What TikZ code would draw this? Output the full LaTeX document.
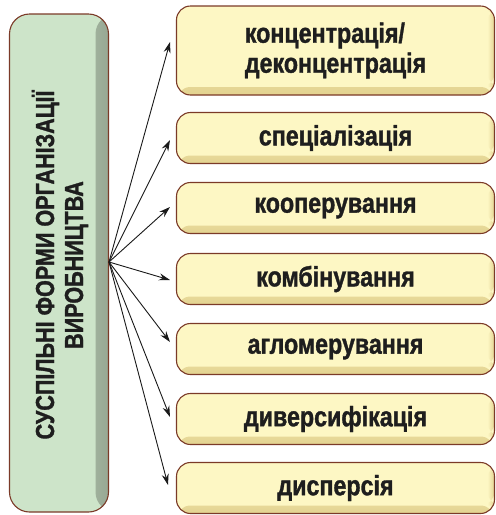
\documentclass[tikz,border=0pt]{standalone}
\usepackage{fontspec}
\setmainfont{Liberation Sans}[FakeStretch=0.83, BoldFeatures={FakeBold=1.2}]
\usetikzlibrary{arrows.meta}
\definecolor{ybase}{HTML}{FDF7C4}
\definecolor{ydark}{HTML}{E3D390}
\definecolor{gbase}{HTML}{CDE4C9}
\definecolor{gdark}{HTML}{98A894}
\definecolor{bord}{HTML}{7B3A28}
\definecolor{txt}{HTML}{1E1E1E}
\begin{document}
\begin{tikzpicture}[x=1pt,y=-1pt,
  formbox/.style={draw=bord, line width=1.1pt, fill=ybase, rounded corners=14pt,
    minimum width=318pt, minimum height=51pt, inner sep=0pt, align=left,
    text=txt, font=\bfseries\fontsize{28}{30}\selectfont,
    path picture={
      \shade[top color=ybase, bottom color=ydark]
        ([yshift=8pt]path picture bounding box.south west) rectangle (path picture bounding box.south east);
      \shade[left color=ybase, right color=ydark]
        ([xshift=-7pt,yshift=-2pt]path picture bounding box.north east) rectangle ([yshift=8pt]path picture bounding box.south east);
    }},
  mainbox/.style={draw=bord, line width=1.1pt, fill=gbase, rounded corners=20pt,
    minimum width=99pt, minimum height=498pt, inner sep=0pt,
    path picture={
      \shade[left color=gbase, right color=gdark]
        ([xshift=-13pt]path picture bounding box.north east) rectangle (path picture bounding box.south east);
    }},
  maintext/.style={rotate=90, align=center, text=txt, font=\bfseries\fontsize{26}{29}\selectfont},
  link/.style={-{Stealth[length=11pt,width=7pt]}, line width=0.9pt, black!90}
]
\useasboundingbox (0,0) rectangle (496,515);
\node[mainbox] (main) at (59,263) {};
\node[maintext] (mtext) at (60,265) {СУСПІЛЬНІ ФОРМИ ОРГАНІЗАЦІЇ\\ВИРОБНИЦТВА};
\coordinate (hub) at (109,262);

\node[formbox, minimum height=89pt] (b1) at (335.5,50.5) {концентрація/\\деконцентрація};
\node[formbox] (b2) at (335.5,138) {спеціалізація};
\node[formbox] (b3) at (335.5,208) {кооперування};
\node[formbox] (b4) at (335.5,279) {комбінування};
\node[formbox] (b5) at (335.5,349) {агломерування};
\node[formbox] (b6) at (335.5,419) {диверсифікація};
\node[formbox] (b7) at (335.5,488) {дисперсія};

\coordinate (t1) at (170,42);
\coordinate (t2) at (170,140);
\coordinate (t3) at (170,207);
\coordinate (t4) at (170,280);
\coordinate (t5) at (170,342);
\coordinate (t6) at (170,417);
\coordinate (t7) at (168,485);
\foreach \i in {1,...,7} {\draw[link] (hub) -- (t\i);}
\end{tikzpicture}
\end{document}
